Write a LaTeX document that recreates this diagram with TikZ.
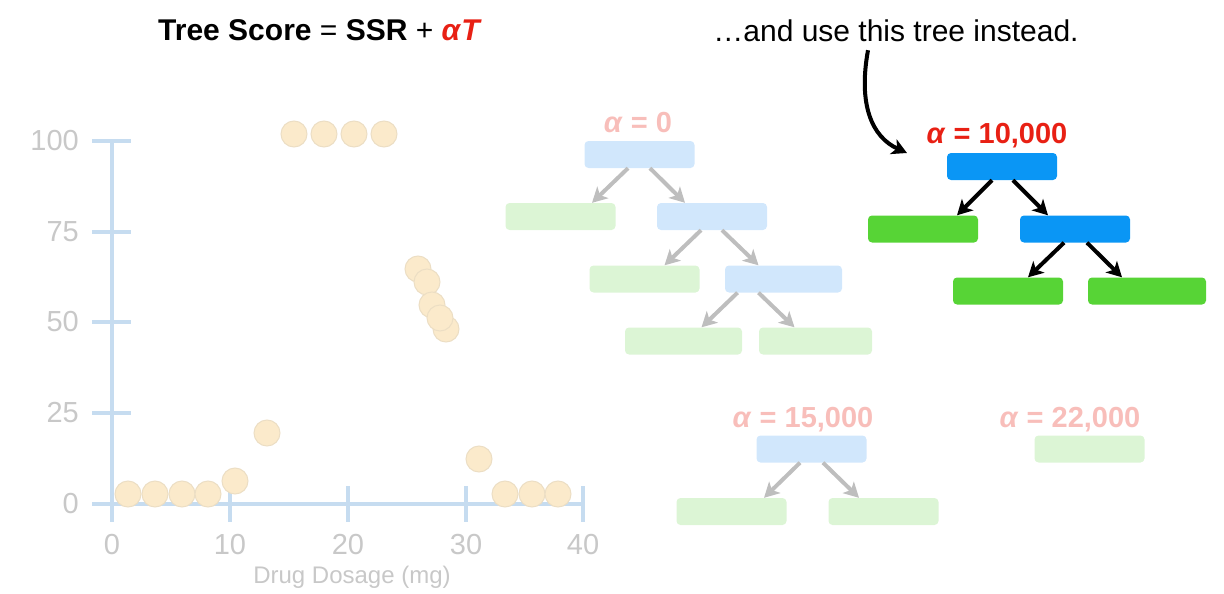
\documentclass[tikz,border=0pt]{standalone}
\usepackage{fontspec}
\setmainfont{Liberation Sans}
\usetikzlibrary{arrows.meta}

\definecolor{axisblue}{RGB}{198,220,240}
\definecolor{labgray}{RGB}{200,200,200}
\definecolor{dotfill}{RGB}{251,234,203}
\definecolor{dotline}{RGB}{236,222,196}
\definecolor{paleblue}{RGB}{209,231,252}
\definecolor{palegreen}{RGB}{220,245,213}
\definecolor{strongblue}{RGB}{10,150,245}
\definecolor{stronggreen}{RGB}{87,212,54}
\definecolor{arrgray}{RGB}{190,190,190}
\definecolor{alphared}{RGB}{232,32,20}
\definecolor{palered}{RGB}{248,190,186}

\newcommand{\alp}{\textit{α}}

\begin{document}
\begin{tikzpicture}[
  x=1pt, y=-1pt,
  every node/.style={inner sep=0pt},
  treebox/.style={rectangle, rounded corners=4pt, fill=#1,
    minimum width=110pt, minimum height=27pt},
  dot/.style={circle, minimum size=26pt, fill=dotfill, draw=dotline, line width=1pt},
  axis/.style={draw=axisblue, line width=4pt},
  ticklab/.style={text=labgray, font=\fontsize{29}{34}\selectfont},
  alphalab/.style={anchor=base, font=\fontsize{29}{34}\selectfont\bfseries},
  garr/.style={-{Stealth[length=15pt,width=16pt,inset=4pt]}, line width=4pt, draw=arrgray},
  barr/.style={-{Stealth[length=15pt,width=16pt,inset=4pt]}, line width=4pt, draw=black}
]
\useasboundingbox (0,0) rectangle (1224,594);

% ---- HEADINGS ----
\node[font=\fontsize{30}{36}\selectfont\bfseries] (score) at (320,30)
  {Tree Score \textmd{=} SSR \textmd{+} \textcolor{alphared}{\alp\textit{T}}};
\node[font=\fontsize{30}{36}\selectfont] (note) at (896,31) {…and use this tree instead.};

% ---- AXES ----
\draw[axis] (112,141) -- (112,522);
\draw[axis] (92,504) -- (583,504);
\foreach \ty in {141,232,322,413}
  \draw[axis] (92,\ty) -- (131,\ty);
\foreach \tx in {230,348,466,583}
  \draw[axis] (\tx,486) -- (\tx,522);
\foreach \v/\ty in {100/141,75/232,50/322,25/413,0/504}
  \node[ticklab, anchor=east] (ylab\v) at (79,\ty) {\v};
\foreach \v/\tx in {0/112,10/230,20/348,30/466,40/583}
  \node[ticklab] (xlab\v) at (\tx,545) {\v};
\node[text=labgray, font=\fontsize{24}{28}\selectfont] (xtitle) at (352,577) {Drug Dosage (mg)};

% ---- DATA ----
\foreach \px/\py [count=\i] in {128/494,155/494,182/494,208/494,235/481,267/433,
    294/134,324/134,354/134,384/134,418/269,427/282,432/305,446/329,440/318,
    479/459,505/494,532/494,558/494}
  \node[dot] (pt\i) at (\px,\py) {};

% ---- ALPHA = 0 ----
\node[alphalab, text=palered] (lab0) at (638,132) {\alp{} = 0};
\node[treebox=paleblue] (a0r) at (639.5,154.5) {};
\node[treebox=palegreen] (a0l) at (560.5,216.5) {};
\node[treebox=paleblue] (a0i) at (712,216.5) {};
\node[treebox=palegreen] (a0il) at (644.5,279) {};
\node[treebox=paleblue, minimum width=117pt] (a0ii) at (783.5,279) {};
\node[treebox=palegreen, minimum width=117pt] (a0iil) at (683.5,341) {};
\node[treebox=palegreen, minimum width=113pt] (a0iir) at (815.5,341) {};
\draw[garr] ([xshift=-11.5pt]a0r.south) -- ([xshift=31.5pt]a0l.north);
\draw[garr] ([xshift=10.5pt]a0r.south) -- ([xshift=-27pt]a0i.north);
\draw[garr] ([xshift=-11pt]a0i.south) -- ([xshift=20pt]a0il.north);
\draw[garr] ([xshift=10pt]a0i.south) -- ([xshift=-25pt]a0ii.north);
\draw[garr] ([xshift=-46pt]a0ii.south) -- ([xshift=18pt]a0iil.north);
\draw[garr] ([xshift=-25pt]a0ii.south) -- ([xshift=-21pt]a0iir.north);

% ---- ALPHA = 10,000 ----
\node[alphalab, text=alphared] (lab10) at (997,143) {\alp{} = 10,000};
\node[treebox=strongblue] (b0r) at (1002,166.5) {};
\node[treebox=stronggreen] (b0l) at (923,229) {};
\node[treebox=strongblue] (b0i) at (1075,229) {};
\node[treebox=stronggreen] (b0il) at (1008,291) {};
\node[treebox=stronggreen, minimum width=118pt] (b0ir) at (1147,291) {};
\draw[barr] ([xshift=-10pt]b0r.south) -- ([xshift=34pt]b0l.north);
\draw[barr] ([xshift=11pt]b0r.south) -- ([xshift=-27pt]b0i.north);
\draw[barr] ([xshift=-11pt]b0i.south) -- ([xshift=20pt]b0il.north);
\draw[barr] ([xshift=12pt]b0i.south) -- ([xshift=-25pt]b0ir.north);

% pointer from the note
\coordinate (tip) at (907,153);
\draw[barr] ([xshift=-28pt,yshift=-8pt]note.south) .. controls (858,105) and (872,137) .. (tip);

% ---- ALPHA = 15,000 ----
\node[alphalab, text=palered] (lab15) at (803,427) {\alp{} = 15,000};
\node[treebox=paleblue] (c0r) at (811.5,449) {};
\node[treebox=palegreen] (c0l) at (731.5,511.5) {};
\node[treebox=palegreen] (c0rr) at (883.5,511.5) {};
\draw[garr] ([xshift=-11.5pt]c0r.south) -- ([xshift=32.5pt]c0l.north);
\draw[garr] ([xshift=11.5pt]c0r.south) -- ([xshift=-24.5pt]c0rr.north);

% ---- ALPHA = 22,000 ----
\node[alphalab, text=palered] (lab22) at (1070,427) {\alp{} = 22,000};
\node[treebox=palegreen] (d0) at (1089.5,449) {};
\end{tikzpicture}
\end{document}
